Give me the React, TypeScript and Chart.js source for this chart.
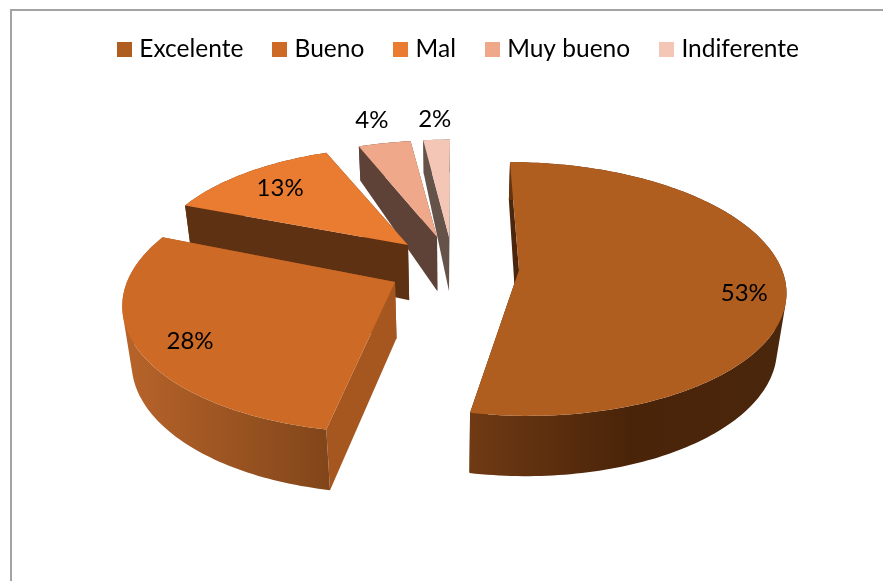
import React, { useEffect, useRef } from "react";
import { Chart, registerables } from "chart.js";

Chart.register(...registerables);

const categories = ["Excelente", "Bueno", "Mal", "Muy bueno", "Indiferente"];
const shares = [53, 28, 13, 4, 2];
const topColors = ["#b05d20", "#cc6a26", "#ea7c31", "#f0a88a", "#f3c6b6"];

type View = {
  apexX: number; apexY: number; rx: number; ry: number; persp: number; skew: number;
  cutColor: string; wallStops: [number, string][]; labelR: number; labelShift: [number, number];
};

// Projection of each exploded slice of the 3-D pie (style only, no data).
const views: View[] = [
  { apexX: 519, apexY: 270, rx: 263, ry: 124, persp: 0.15, skew: 9, cutColor: "#4a260c", labelR: 0.84, labelShift: [2, 13],
    wallStops: [[0, "#6f3a14"], [0.5, "#4a2409"], [1, "#4a260c"]] },
  { apexX: 395, apexY: 282, rx: 268, ry: 128, persp: 0.15, skew: -10, cutColor: "#a65720", labelR: 0.81, labelShift: [1, 6],
    wallStops: [[0, "#b8642a"], [1, "#82461a"]] },
  { apexX: 408, apexY: 245, rx: 253, ry: 113, persp: 0.15, skew: 0, cutColor: "#5f3113", labelR: 0.78, labelShift: [1, 1],
    wallStops: [[0, "#5f3113"], [1, "#5f3113"]] },
  { apexX: 437, apexY: 237, rx: 242, ry: 111, persp: 0.15, skew: 0, cutColor: "#5f4237", labelR: 1.26, labelShift: [-1, -2],
    wallStops: [[0, "#5f4237"], [1, "#5f4237"]] },
  { apexX: 449, apexY: 237, rx: 245, ry: 112, persp: 0.15, skew: -1, cutColor: "#655249", labelR: 1.28, labelShift: [1, 2],
    wallStops: [[0, "#655249"], [1, "#655249"]] },
];
const paintOrder = [4, 3, 2, 1, 0];
const FONT = "Lato";
const LEGEND_SIZE = 24.5;
const LABEL_SIZE = 24;

type P = { x: number; y: number };

function project(v: View, angle: number, r: number): P {
  const u = Math.cos(angle) * r;
  const w = Math.sin(angle) * r;
  const d = 1 - v.persp * w;
  return { x: v.apexX + (v.rx * u) / d + v.skew * w, y: v.apexY + (v.ry * w) / d };
}
function drop(p: P): P {
  const depth = p.y < 240 ? 55 - 0.22 * (240 - p.y) : 55 + 0.03 * (p.y - 240);
  return { x: p.x + (450 - p.x) * 0.03 * (depth / 60), y: p.y + depth };
}
function trace(ctx: CanvasRenderingContext2D, pts: P[]) {
  pts.forEach((p, i) => (i ? ctx.lineTo(p.x, p.y) : ctx.moveTo(p.x, p.y)));
  ctx.closePath();
}
function poly(ctx: CanvasRenderingContext2D, pts: P[], fill: string | CanvasGradient) {
  ctx.beginPath();
  trace(ctx, pts);
  ctx.fillStyle = fill;
  ctx.fill();
}
function area(pts: P[]) {
  let s = 0;
  pts.forEach((p, i) => {
    const q = pts[(i + 1) % pts.length];
    s += p.x * q.y - q.x * p.y;
  });
  return s;
}

const pie3d = {
  id: "pie3d",
  beforeDatasetsDraw(chart: any) {
    const ctx: CanvasRenderingContext2D = chart.ctx;
    const arcs = chart.getDatasetMeta(0).data;
    const data: number[] = chart.data.datasets[0].data;
    ctx.save();
    for (const i of paintOrder) {
      const arc = arcs[i];
      const v = views[i];
      const { startAngle, endAngle } = arc.getProps(["startAngle", "endAngle"], true);
      const rim: P[] = [];
      const n = Math.max(4, Math.ceil((endAngle - startAngle) / 0.02));
      for (let k = 0; k <= n; k++) rim.push(project(v, startAngle + ((endAngle - startAngle) * k) / n, 1));
      const apex = { x: v.apexX, y: v.apexY };
      const low = rim.map(drop);
      const xs = rim.map((p) => p.x);
      const grad = ctx.createLinearGradient(Math.min(...xs), 0, Math.max(...xs), 0);
      v.wallStops.forEach(([o, c]) => grad.addColorStop(o, c));
      poly(ctx, [apex, rim[rim.length - 1], low[low.length - 1], drop(apex)], v.cutColor);
      poly(ctx, [apex, rim[0], low[0], drop(apex)], v.cutColor);
      ctx.beginPath();
      for (let k = 0; k < n; k++) {
        const quad = [rim[k], rim[k + 1], low[k + 1], low[k]];
        trace(ctx, area(quad) < 0 ? quad.reverse() : quad);
      }
      ctx.fillStyle = grad;
      ctx.fill("nonzero");
      poly(ctx, [apex, ...rim], topColors[i]);
    }
    ctx.fillStyle = "#000";
    ctx.font = `${LABEL_SIZE}px ${FONT}`;
    ctx.textAlign = "center";
    ctx.textBaseline = "middle";
    arcs.forEach((arc: any, i: number) => {
      const { startAngle, endAngle } = arc.getProps(["startAngle", "endAngle"], true);
      const p = project(views[i], (startAngle + endAngle) / 2, views[i].labelR);
      ctx.fillText(`${data[i]}%`, p.x + views[i].labelShift[0], p.y + views[i].labelShift[1]);
    });
    ctx.restore();
    return false;
  },
};

function swatch(color: string) {
  const c = document.createElement("canvas");
  c.width = 15;
  c.height = 15;
  const g = c.getContext("2d")!;
  g.fillStyle = color;
  g.fillRect(0, 0, 15, 15);
  return c;
}

export default function App() {
  const ref = useRef<HTMLCanvasElement>(null);
  useEffect(() => {
    const chart = new Chart(ref.current!, {
      type: "pie",
      data: {
        labels: categories,
        datasets: [{ data: shares, backgroundColor: topColors, borderWidth: 0 }],
      },
      options: {
        animation: false,
        responsive: false,
        layout: { padding: { top: 3, left: 38 } },
        plugins: {
          tooltip: { enabled: false },
          legend: {
            position: "top",
            labels: {
              usePointStyle: true,
              boxWidth: 5,
              boxHeight: 15,
              padding: 34,
              color: "#000",
              font: { family: FONT, size: LEGEND_SIZE },
              generateLabels: () =>
                categories.map((text, i) => ({
                  text,
                  index: i,
                  datasetIndex: 0,
                  pointStyle: swatch(topColors[i]),
                  fillStyle: topColors[i],
                  strokeStyle: topColors[i],
                  lineWidth: 0,
                  hidden: false,
                })),
            },
          },
        },
      } as any,
      plugins: [pie3d],
    });
    return () => chart.destroy();
  }, []);
  return (
    <div style={{ position: "absolute", left: 0, top: 0, width: 883, height: 581, background: "#fff", overflow: "hidden" }}>
      <div style={{ position: "absolute", left: 10, top: 9, width: 873, height: 572, borderLeft: "2px solid #a3a3a3", borderTop: "2px solid #a3a3a3", boxSizing: "border-box" }} />
      <canvas ref={ref} width={883} height={581} style={{ position: "absolute", left: 0, top: 0 }} />
    </div>
  );
}
